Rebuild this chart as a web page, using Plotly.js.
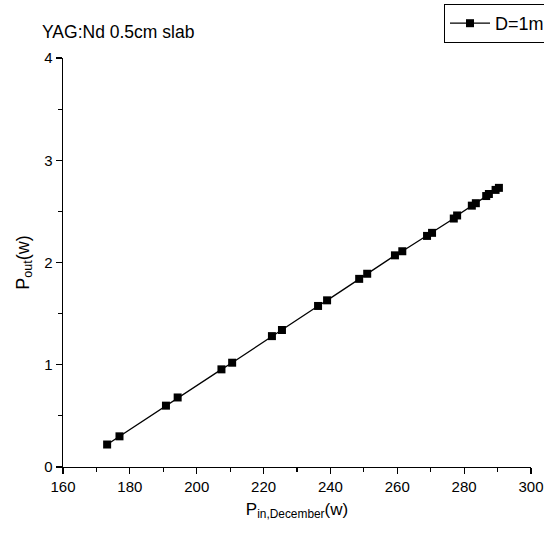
<!DOCTYPE html>
<html>
<head>
<meta charset="utf-8">
<script src="https://cdn.plot.ly/plotly-3.0.1.min.js"></script>
<style>html,body{margin:0;padding:0;background:#fff;}#chart{width:544px;height:541px;overflow:hidden;}</style>
</head>
<body>
<div id="chart"></div>
<script>
const seriesName = "D=1m";
const chartTitle = "YAG:Nd 0.5cm slab";
const pIn = [173.2, 176.9, 190.8, 194.3, 207.4, 210.6, 222.5, 225.5, 236.3, 239.0, 248.6, 251.0, 259.3, 261.5, 268.9, 270.4, 276.9, 277.9, 282.3, 283.5, 286.6, 287.4, 289.4, 290.4];
const pOut = [0.22, 0.30, 0.60, 0.68, 0.955, 1.02, 1.28, 1.34, 1.575, 1.63, 1.84, 1.89, 2.07, 2.11, 2.26, 2.29, 2.43, 2.46, 2.556, 2.58, 2.65, 2.67, 2.71, 2.73];
const xTicks = [160, 180, 200, 220, 240, 260, 280, 300];
const yTicks = [0, 1, 2, 3, 4];

const font = {family: "Liberation Sans, Arial, sans-serif", color: "#000"};

const trace = {
  x: pIn, y: pOut, name: seriesName, type: "scatter", mode: "lines+markers",
  line: {color: "#000", width: 1.3},
  marker: {symbol: "square", size: 8, color: "#000"}
};

const layout = {
  width: 544, height: 541,
  paper_bgcolor: "#fff", plot_bgcolor: "#fff",
  margin: {l: 63, r: 13, t: 58, b: 74, autoexpand: false},
  font: Object.assign({size: 15}, font),
  title: {text: chartTitle, x: 42/544, xanchor: "left", xref: "container", y: 1 - 32/541, yanchor: "middle", yref: "container",
          font: Object.assign({size: 17.5}, font)},
  showlegend: true,
  legend: {x: (444-63)/468, xanchor: "left", y: (467-4)/409, yanchor: "top",
           bordercolor: "#000", borderwidth: 1, bgcolor: "#fff", itemwidth: 40,
           font: Object.assign({size: 18}, font)},
  xaxis: {
    range: [160, 300], tickvals: xTicks, ticktext: xTicks.map(String),
    showline: true, linecolor: "#000", linewidth: 1.3, mirror: false,
    ticks: "outside", ticklen: 6, tickwidth: 1.2, tickcolor: "#000",
    showgrid: false, zeroline: false,
    minor: {dtick: 10, tick0: 160, ticks: "outside", ticklen: 4, tickwidth: 1.2, tickcolor: "#000", showgrid: false},
    tickfont: Object.assign({size: 15}, font),
    title: {text: "P<sub>in,December</sub>(w)", font: Object.assign({size: 17}, font), standoff: 8}
  },
  yaxis: {
    range: [0, 4], tickvals: yTicks, ticktext: yTicks.map(String),
    showline: true, linecolor: "#000", linewidth: 1.3, mirror: false,
    ticks: "outside", ticklen: 6, tickwidth: 1.2, tickcolor: "#000",
    showgrid: false, zeroline: false,
    minor: {dtick: 0.5, tick0: 0, ticks: "outside", ticklen: 4, tickwidth: 1.2, tickcolor: "#000", showgrid: false},
    tickfont: Object.assign({size: 15}, font),
    title: {text: "P<sub>out</sub>(w)", font: Object.assign({size: 18}, font), standoff: 10}
  }
};

Plotly.newPlot("chart", [trace], layout, {displayModeBar: false, staticPlot: true}).then(function (gd) {
  // The reference legend box runs past the right edge of the figure; Plotly keeps it inside, so shift it.
  const leg = gd.querySelector(".legend");
  if (leg) {
    const t = leg.getAttribute("transform") || "";
    const m = t.match(/translate\(\s*([-\d.]+)[ ,]+([-\d.]+)\s*\)/);
    if (m) leg.setAttribute("transform", "translate(444," + m[2] + ")");
  }
});
</script>
</body>
</html>
